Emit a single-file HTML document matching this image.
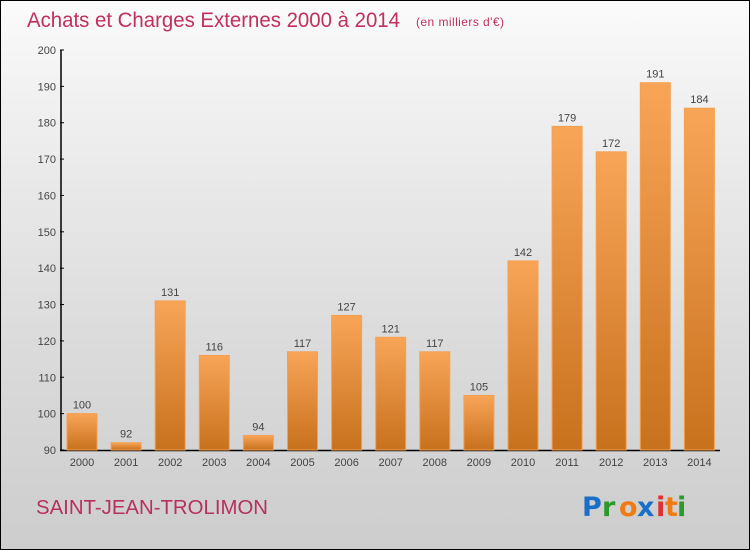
<!DOCTYPE html>
<html><head><meta charset="utf-8"><style>
html,body{margin:0;padding:0}
body{width:750px;height:550px;overflow:hidden;font-family:"Liberation Sans",sans-serif}
#wrap{position:relative;width:748px;height:548px;border:1px solid #000;background:linear-gradient(#fbfbfb,#f2f2f2 15%,#dcdcdc 60%,#cdcdcd)}
</style></head><body>
<div id="wrap">
<svg width="748" height="548" viewBox="1 1 748 548" style="position:absolute;left:0;top:0">
<defs><linearGradient id="bg" x1="0" y1="0" x2="0" y2="1"><stop offset="0" stop-color="#f8a558"/><stop offset="1" stop-color="#c8711d"/></linearGradient></defs>
<text x="27" y="27" font-size="21" fill="#c0305c" font-family="Liberation Sans,sans-serif" textLength="373" lengthAdjust="spacingAndGlyphs">Achats et Charges Externes 2000 à 2014</text>
<text x="416" y="26" font-size="12" fill="#c0305c" font-family="Liberation Sans,sans-serif" textLength="88">(en milliers d'€)</text>
<g id="axes"></g><g id="bars"></g>
<text x="36" y="514" font-size="20" fill="#b8305c" font-family="Liberation Sans,sans-serif" textLength="232" lengthAdjust="spacingAndGlyphs">SAINT-JEAN-TROLIMON</text>
<g font-size="27" font-weight="bold" font-family="DejaVu Sans,sans-serif">
<text x="582" y="516" fill="#1a6fc9">P</text><text x="602" y="516" fill="#2a9a2a">r</text><text x="619" y="516" fill="#f07b12">o</text><text x="637" y="516" fill="#1a6fc9">x</text><text x="656" y="516" fill="#e23030">i</text><text x="665" y="516" fill="#f07b12">t</text><text x="677" y="516" fill="#2a9a2a">i</text></g>
</svg></div>
<script>
const categories=["2000","2001","2002","2003","2004","2005","2006","2007","2008","2009","2010","2011","2012","2013","2014"];
const values=[100,92,131,116,94,117,127,121,117,105,142,179,172,191,184];
const yTicks=[90,100,110,120,130,140,150,160,170,180,190,200];
const NS="http://www.w3.org/2000/svg";
const y=v=>450-(v-90)*400/110;
const x=i=>82+i*44.1;
function el(t,a,p,txt){const e=document.createElementNS(NS,t);for(const k in a)e.setAttribute(k,a[k]);if(txt!==undefined)e.textContent=txt;p.appendChild(e);return e;}
const ax=document.getElementById('axes'),bg=document.getElementById('bars');
yTicks.forEach(v=>{
 const t=el('text',{x:56,y:y(v)+4,'font-size':11,fill:'#444','text-anchor':'end'},ax,v);
 
 
 const l=el('line',{x1:60,x2:64,y1:y(v),y2:y(v),stroke:'#000'},ax);
 
 
});
const ya=el('line',{x1:61,x2:61,y1:50,y2:451,stroke:'#000','stroke-width':1.5},ax);


const xa=el('line',{x1:60,x2:720,y1:450.5,y2:450.5,stroke:'#000','stroke-width':1.5},ax);


categories.forEach((c,i)=>{
 const v=values[i];
 const r=el('rect',{x:x(i)-15,y:y(v),width:30,height:450-y(v),fill:'url(#bg)',stroke:'#f5a050','stroke-width':1},bg);
 
 
 const vl=el('text',{x:x(i),y:y(v)-5,'font-size':11,fill:'#444','text-anchor':'middle'},bg,v);
 
 
 const xl=el('text',{x:x(i),y:466,'font-size':11,fill:'#444','text-anchor':'middle'},bg,c);
 
 
});
</script>
</body></html>
